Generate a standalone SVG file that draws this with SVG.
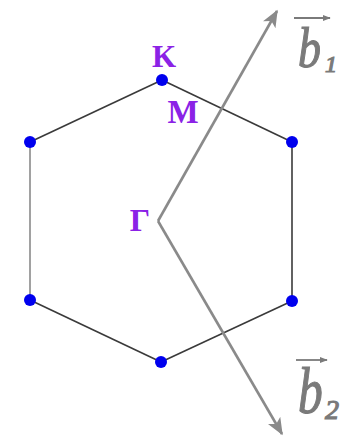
<svg xmlns="http://www.w3.org/2000/svg" width="344" height="442" viewBox="0 0 344 442">
<style>
.edge{stroke:#3a3a3a;stroke-width:1.6;fill:none}
.dot{fill:#0000ee}
.pt{font-family:"Liberation Serif",serif;font-weight:bold;fill:#8b22e6}
.vec{stroke:#8a8a8a;stroke-width:2.6;fill:none}
.lbl{font-family:"Liberation Serif",serif;font-style:italic;fill:#7a7a7a;stroke:#7a7a7a;stroke-width:1.2}
.ov{stroke:#7a7a7a;stroke-width:1.8;fill:none}
</style>
<defs>
<marker id="ah" viewBox="0 0 12 10" refX="11" refY="5" markerWidth="7" markerHeight="5.5" markerUnits="strokeWidth" orient="auto">
<path d="M0,0 L12,5 L0,10 L3,5 Z" fill="#8a8a8a"/>
</marker>
<marker id="sah" viewBox="0 0 10 10" refX="9" refY="5" markerWidth="4.5" markerHeight="4.5" markerUnits="strokeWidth" orient="auto">
<path d="M0,1 L10,5 L0,9 Z" fill="#7a7a7a"/>
</marker>
</defs>
<g id="connectors">
<line class="edge" x1="162" y1="80" x2="292" y2="142"/>
<line class="edge" x1="292" y1="142" x2="292" y2="301" stroke="#222"/>
<line class="edge" x1="292" y1="301" x2="161" y2="362"/>
<line class="edge" x1="161" y1="362" x2="30" y2="300"/>
<line class="edge" x1="30" y1="300" x2="30" y2="142" style="stroke:#8a8a8a"/>
<line class="edge" x1="30" y1="142" x2="162" y2="80"/>
<line class="vec" x1="158" y1="221" x2="277" y2="11" marker-end="url(#ah)"/>
<line class="vec" x1="158" y1="221" x2="282" y2="434" marker-end="url(#ah)"/>
</g>
<g id="K"><circle class="dot" cx="162" cy="80" r="6"/><text class="pt" x="164" y="67" font-size="31" text-anchor="middle">K</text></g>
<g id="v2"><circle class="dot" cx="292" cy="142" r="6"/></g>
<g id="v3"><circle class="dot" cx="292" cy="301" r="6"/></g>
<g id="v4"><circle class="dot" cx="161" cy="362" r="6"/></g>
<g id="v5"><circle class="dot" cx="30" cy="300" r="6"/></g>
<g id="v6"><circle class="dot" cx="30" cy="142" r="6"/></g>
<g id="M"><text class="pt" x="183" y="123" font-size="33" text-anchor="middle">M</text></g>
<g id="Gamma"><text class="pt" x="140" y="231" font-size="32" text-anchor="middle">Γ</text></g>
<g id="b1">
<line class="ov" x1="294" y1="18" x2="330" y2="18" marker-end="url(#sah)"/>
<text class="lbl" transform="translate(298,67) scale(0.82,1)" font-size="56">b</text>
<text class="lbl" x="325" y="72" font-size="24">1</text>
</g>
<g id="b2">
<line class="ov" x1="296" y1="360" x2="327" y2="360" marker-end="url(#sah)"/>
<text class="lbl" transform="translate(298,413) scale(0.75,1)" font-size="66">b</text>
<text class="lbl" x="325" y="419" font-size="28">2</text>
</g>
</svg>
